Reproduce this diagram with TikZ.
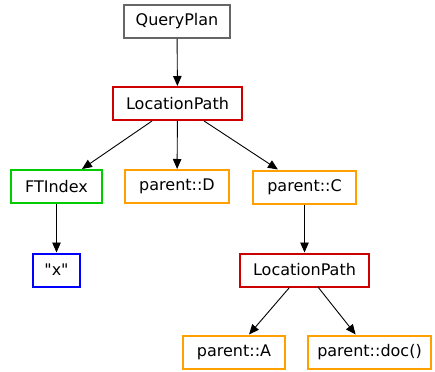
\documentclass[tikz,border=0pt]{standalone}
\usepackage{fontspec}
\setmainfont{DejaVu Sans}[Ligatures=TeXOff]
\usetikzlibrary{arrows.meta}
\definecolor{cgray}{HTML}{666666}
\definecolor{cred}{HTML}{CC0000}
\definecolor{cgreen}{HTML}{00CC00}
\definecolor{corange}{HTML}{FFA000}
\definecolor{cblue}{HTML}{0000FF}
\tikzset{
  box/.style={draw, line width=2pt, fill=white, inner sep=0pt,
    minimum height=33pt, font=\fontsize{16}{19}\selectfont},
  edge/.style={-{Triangle[length=10pt,width=8.5pt]}, line width=0.9pt, black}
}
\begin{document}
\begin{tikzpicture}[x=1pt,y=-1pt]
\useasboundingbox (0,0) rectangle (435,371);
\node[box, draw=cgray, minimum width=106pt] (qp) at (177,21.5) {QueryPlan};
\node[box, draw=cred, minimum width=129pt] (lp1) at (177.5,103.5) {LocationPath};
\node[box, draw=cgreen, minimum width=91pt] (fti) at (56.5,186.5) {FTIndex};
\node[box, draw=corange, minimum width=104pt] (pd) at (177,186.5) {parent::D};
\node[box, draw=corange, minimum width=103pt] (pc) at (304.5,187) {parent::C};
\node[box, draw=cblue, minimum width=47pt] (x) at (56.5,270) {"x"};
\node[box, draw=cred, minimum width=129pt] (lp2) at (304.5,270) {LocationPath};
\node[box, draw=corange, minimum width=102pt] (pa) at (234,352) {parent::A};
\node[box, draw=corange, minimum width=123pt] (pdoc) at (369.5,352) {parent::doc()};
\draw[edge] (qp) -- (lp1);
\draw[edge] (lp1) -- (fti);
\draw[edge] (lp1) -- (pd);
\draw[edge] (lp1) -- (pc);
\draw[edge] (fti) -- (x);
\draw[edge] (pc) -- (lp2);
\draw[edge] (lp2) -- (pa);
\draw[edge] (lp2) -- (pdoc);
\end{tikzpicture}
\end{document}
